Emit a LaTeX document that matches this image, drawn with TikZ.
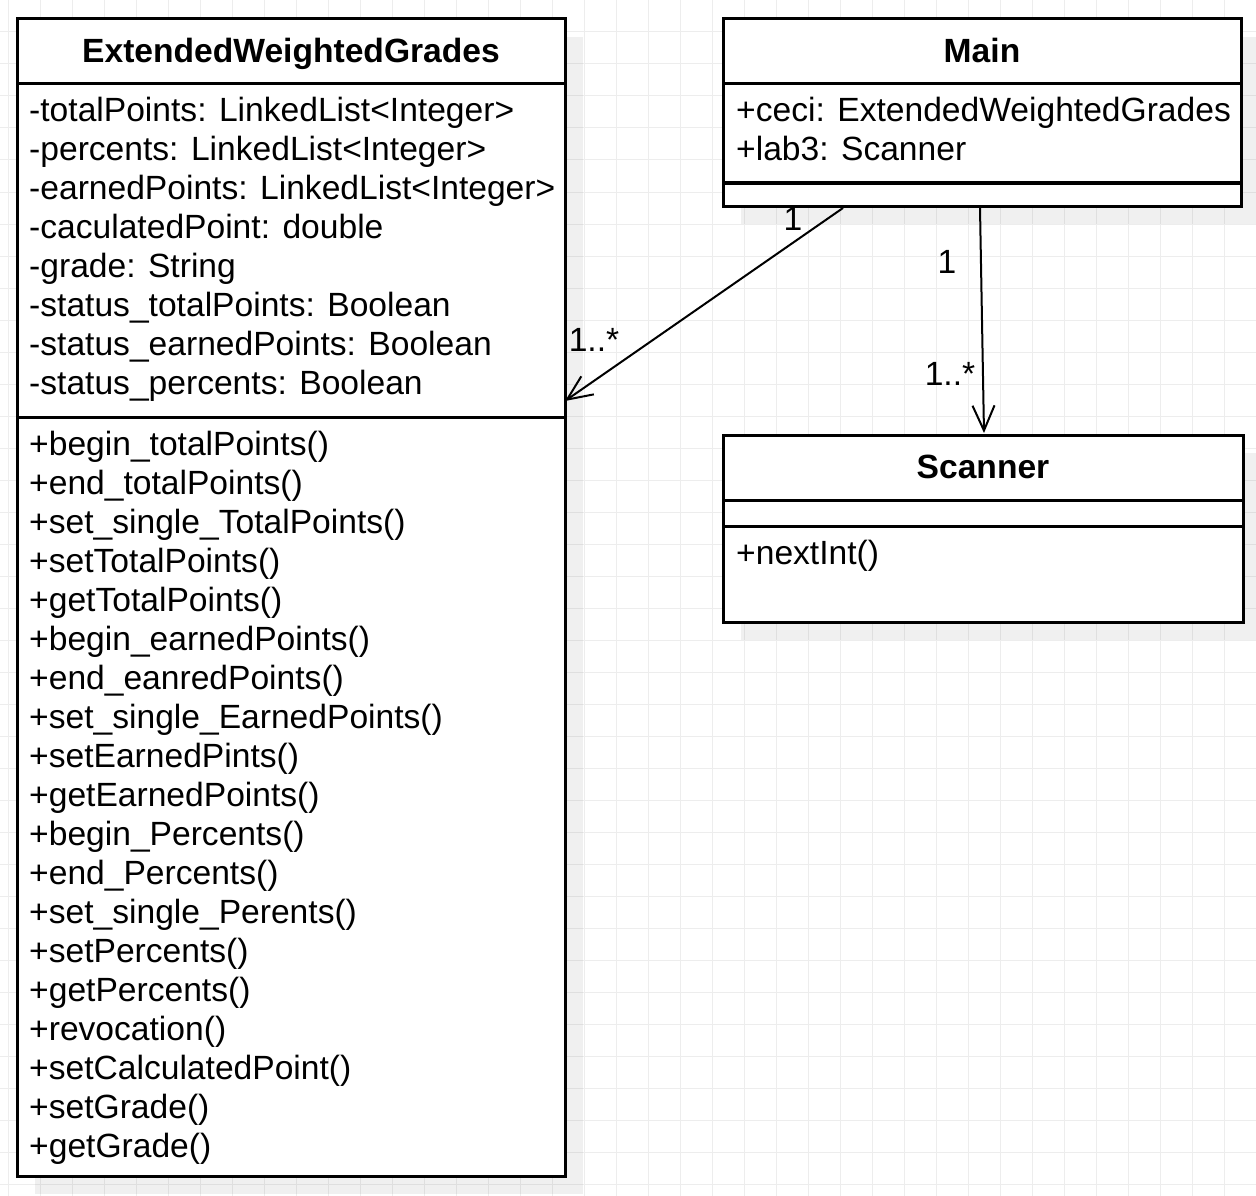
\documentclass[tikz,border=0pt]{standalone}
\usepackage{fontspec}
\setmainfont{Liberation Sans}
\usetikzlibrary{arrows.meta,shadows}

\newcommand{\umlfont}{\fontsize{33.6}{39}\selectfont}

\begin{document}
\begin{tikzpicture}[
  x=1pt, y=-1pt,
  classbox/.style={rectangle, draw, line width=3pt, fill=white, inner sep=0pt, outer sep=0pt, anchor=north west,
    drop shadow={shadow xshift=18pt, shadow yshift=-18pt, fill=black, opacity=0.06}},
  divider/.style={line width=3pt},
  title/.style={font=\umlfont\bfseries, anchor=base, inner sep=0pt},
  member/.style={font=\umlfont, anchor=base west, inner sep=0pt},
  mult/.style={font=\umlfont, inner sep=0pt},
  assoc/.style={line width=2pt, -{Straight Barb[length=25pt,width=22pt,line width=2pt]}},
  gridline/.style={draw=black!7, line width=1pt}
]
\useasboundingbox (0,0) rectangle (1256,1196);
\fill[white] (0,0) rectangle (1256,1196);

% background grid
\foreach \gx in {8,40,...,1256} \draw[gridline] (\gx,0) -- (\gx,1196);
\foreach \gy in {0,32,...,1196} \draw[gridline] (0,\gy) -- (1256,\gy);

% class boxes
\node[classbox, minimum width=548pt, minimum height=1157pt] (ewg) at (17,19) {};
\node[classbox, minimum width=518pt, minimum height=187pt] (main) at (723,19) {};
\node[classbox, minimum width=520pt, minimum height=187pt] (scanner) at (723,435) {};

\draw[divider] (ewg.west |- 0,84) -- (ewg.east |- 0,84);
\draw[divider] (ewg.west |- 0,417) -- (ewg.east |- 0,417);
\draw[divider] (main.west |- 0,84) -- (main.east |- 0,84);
\draw[divider] (main.west |- 0,183) -- (main.east |- 0,183);
\draw[divider] (scanner.west |- 0,500) -- (scanner.east |- 0,500);
\draw[divider] (scanner.west |- 0,526) -- (scanner.east |- 0,526);

% class names
\node[title] (ewgname) at (291,62.7) {ExtendedWeightedGrades};
\node[title] (mainname) at (982,62.7) {Main};
\node[title] (scannername) at (983,478.7) {Scanner};

% ExtendedWeightedGrades members
\foreach \txt [count=\i from 0] in {
  -totalPoints: LinkedList<Integer>,
  -percents: LinkedList<Integer>,
  -earnedPoints: LinkedList<Integer>,
  -caculatedPoint: double,
  -grade: String,
  -status\_totalPoints: Boolean,
  -status\_earnedPoints: Boolean,
  -status\_percents: Boolean}
  \node[member] (ewgattr\i) at (29,121.7+39*\i) {\txt};

\foreach \txt [count=\i from 0] in {
  +begin\_totalPoints(),
  +end\_totalPoints(),
  +set\_single\_TotalPoints(),
  +setTotalPoints(),
  +getTotalPoints(),
  +begin\_earnedPoints(),
  +end\_eanredPoints(),
  +set\_single\_EarnedPoints(),
  +setEarnedPints(),
  +getEarnedPoints(),
  +begin\_Percents(),
  +end\_Percents(),
  +set\_single\_Perents(),
  +setPercents(),
  +getPercents(),
  +revocation(),
  +setCalculatedPoint(),
  +setGrade(),
  +getGrade()}
  \node[member] (ewgop\i) at (29,455.5+39*\i) {\txt};

% Main members
\node[member] (mainceci) at (736,121.7) {+ceci: ExtendedWeightedGrades};
\node[member] (mainlab) at (736,160.7) {+lab3: Scanner};

% Scanner members
\node[member] (scannernext) at (736,564) {+nextInt()};

% associations
\draw[assoc] ([xshift=120pt,yshift=-2pt]main.south west) -- ([yshift=-382pt]ewg.north east);
\draw[assoc] ([xshift=257pt,yshift=-2pt]main.south west) -- ([xshift=261pt,yshift=2pt]scanner.north west);

\node[mult] (m1) at (793,219) {1};
\node[mult] (m2) at (594,340) {1..*};
\node[mult] (m3) at (947,262) {1};
\node[mult] (m4) at (950,374) {1..*};
\end{tikzpicture}
\end{document}
